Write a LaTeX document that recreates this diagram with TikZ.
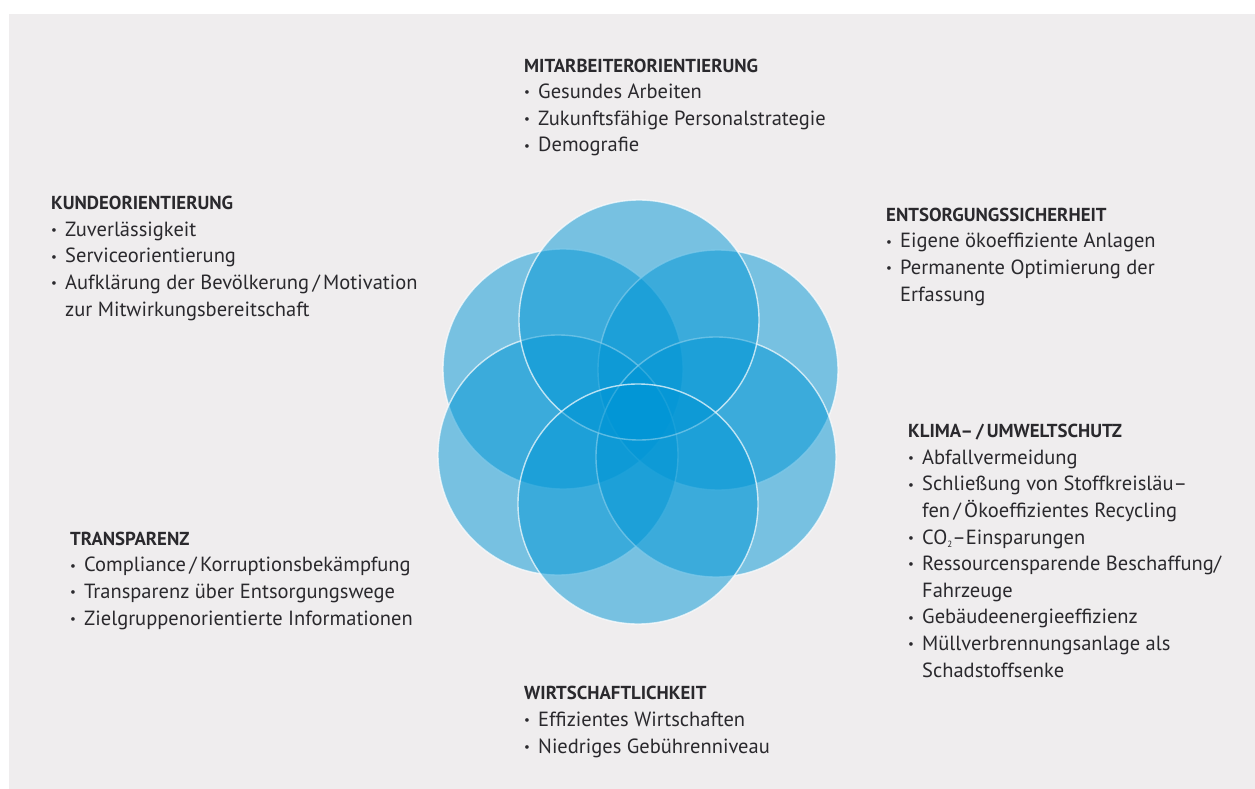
\documentclass[tikz,border=0pt]{standalone}
\usepackage{fontspec}
\setmainfont{PT Sans}
\definecolor{bg}{HTML}{EFEDEE}
\definecolor{txt}{HTML}{2A292D}
\definecolor{flower}{HTML}{0096D6}
\newcommand\bul{\makebox[14pt][l]{\raisebox{1.8pt}{\fontsize{13}{13}\selectfont •}}}
\newcommand\hang{\hspace*{14pt}}
\newcommand\hd[1]{{\fontsize{18.8}{18.8}\selectfont\bfseries #1}}
\begin{document}
\begin{tikzpicture}[x=1pt,y=-1pt,
  petal/.style={fill=flower,fill opacity=0.5,draw=white,draw opacity=0.7,line width=1.4pt},
  block/.style={anchor=base west,inner sep=0pt,align=left,text=txt,font=\fontsize{20.5}{26.6}\selectfont},
]
\useasboundingbox (0,0) rectangle (1255,789);
\fill[white] (0,0) rectangle (1255,789);
\fill[bg] (9,14) rectangle (1255,789);
% flower
\path[petal] (563,369) circle (120);
\path[petal] (718,370) circle (120);
\path[petal] (558,455) circle (120);
\path[petal] (716,457) circle (120);
\path[petal] (639,320) circle (120);
\path[petal] (638,504) circle (120);
% texts (anchored at the baseline of the last line)
\node[block] (mit) at (524,151.8) {\hd{MITARBEITERORIENTIERUNG}\\
  \bul Gesundes Arbeiten\\
  \bul Zukunftsfähige Personalstrategie\\
  \bul Demografie};
\node[block] (kun) at (51,316) {\hd{KUNDEORIENTIERUNG}\\
  \bul Zuverlässigkeit\\
  \bul Serviceorientierung\\
  \bul Aufklärung der Bevölkerung\,/\,Motivation\\
  \hang zur Mitwirkungsbereitschaft};
\node[block] (ent) at (886,301) {\hd{ENTSORGUNGSSICHERHEIT}\\
  \bul Eigene ökoeffiziente Anlagen\\
  \bul Permanente Optimierung der\\
  \hang Erfassung};
\node[block] (kli) at (908,677) {\hd{KLIMA–\,/\,UMWELTSCHUTZ}\\
  \bul Abfallvermeidung\\
  \bul Schließung von Stoffkreisläu–\\
  \hang fen\,/\,Ökoeffizientes Recycling\\
  \bul CO\raisebox{-3pt}{\fontsize{9}{9}\selectfont 2}–Einsparungen\\
  \bul Ressourcensparende Beschaffung/\\
  \hang Fahrzeuge\\
  \bul Gebäudeenergieeffizienz\\
  \bul Müllverbrennungsanlage als\\
  \hang Schadstoffsenke};
\node[block] (tra) at (70,625) {\hd{TRANSPARENZ}\\
  \bul Compliance\,/\,Korruptionsbekämpfung\\
  \bul Transparenz über Entsorgungswege\\
  \bul Zielgruppenorientierte Informationen};
\node[block] (wir) at (524,753) {\hd{WIRTSCHAFTLICHKEIT}\\
  \bul Effizientes Wirtschaften\\
  \bul Niedriges Gebührenniveau};
\end{tikzpicture}
\end{document}
